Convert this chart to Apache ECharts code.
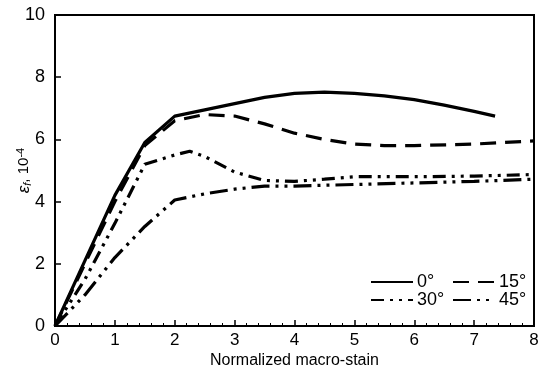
<!DOCTYPE html>
<html>
<head>
<meta charset="utf-8">
<script src="https://cdn.jsdelivr.net/npm/echarts@6/dist/echarts.min.js"></script>
<style>
  html, body { margin: 0; padding: 0; background: #fff; }
  #chart { width: 541px; height: 377px; }
</style>
</head>
<body>
<div id="chart"></div>
<script>
// 数据
var seriesNames = ['0°', '15°', '30°', '45°'];

var x0 = [0, 0.5, 1, 1.5, 2, 2.5, 3, 3.5, 4, 4.5, 5, 5.5, 6, 6.5, 7, 7.35];
var y0 = [0, 2.1, 4.2, 5.9, 6.75, 6.95, 7.15, 7.35, 7.48, 7.52, 7.48, 7.4, 7.28, 7.1, 6.9, 6.75];

var x15 = [0, 0.5, 1, 1.5, 2, 2.5, 3, 3.5, 4, 4.5, 5, 5.5, 6, 7, 8];
var y15 = [0, 2.0, 4.0, 5.8, 6.6, 6.8, 6.75, 6.5, 6.2, 6.0, 5.85, 5.8, 5.8, 5.85, 5.95];

var x30 = [0, 0.5, 1, 1.5, 2, 2.25, 2.5, 3, 3.5, 4, 4.5, 5, 6, 7, 8];
var y30 = [0, 1.5, 3.3, 5.2, 5.5, 5.62, 5.45, 4.95, 4.68, 4.65, 4.72, 4.8, 4.8, 4.82, 4.87];

var x45 = [0, 0.5, 1, 1.5, 2, 2.5, 3, 3.5, 4, 5, 6, 7, 8];
var y45 = [0, 1.0, 2.2, 3.2, 4.05, 4.25, 4.4, 4.5, 4.5, 4.55, 4.6, 4.65, 4.72];

function pairs(xs, ys) {
    var out = [];
    for (var i = 0; i < xs.length; i++) {
        out.push([xs[i], ys[i]]);
    }
    return out;
}

var chart = echarts.init(document.getElementById('chart'));

var font = 'Liberation Sans, Arial, Helvetica, sans-serif';

function makeSeries(name, data, dash) {
    return {
        name: name,
        type: 'line',
        data: data,
        symbol: 'none',
        showSymbol: false,
        lineStyle: {
            color: '#000',
            width: 3.2,
            type: dash
        },
        itemStyle: { color: '#000' }
    };
}

function makeLegend(names, left) {
    return {
        data: names,
        orient: 'vertical',
        left: left,
        top: 273,
        itemWidth: 42,
        itemHeight: 12,
        itemGap: 0,
        padding: 0,
        itemStyle: { opacity: 0 },
        textStyle: { fontFamily: font, fontSize: 18, color: '#000', padding: [0, 0, 0, -1] }
    };
}

var option = {
    animation: false,
    backgroundColor: '#fff',
    grid: {
        left: 55,
        right: 7,
        top: 15,
        bottom: 51,
        outerBoundsMode: 'none',
        containLabel: false,
        show: true,
        borderColor: '#000',
        borderWidth: 2
    },
    legend: [
        makeLegend(['0°', '30°'], 370),
        makeLegend(['15°', '45°'], 452)
    ],
    xAxis: {
        type: 'value',
        min: 0,
        max: 8,
        interval: 1,
        name: 'Normalized macro-stain',
        nameLocation: 'middle',
        nameGap: 27,
        nameMoveOverlap: false,
        nameTextStyle: { fontFamily: font, fontSize: 16, color: '#000' },
        axisLine: { lineStyle: { color: '#000', width: 2 } },
        axisTick: { inside: true, length: 6, lineStyle: { color: '#000', width: 1.5 } },
        minorTick: { show: true, splitNumber: 5, length: 3, lineStyle: { color: '#000', width: 1 } },
        axisLabel: { fontFamily: font, fontSize: 17, color: '#000', margin: 6 },
        splitLine: { show: false }
    },
    yAxis: {
        type: 'value',
        min: 0,
        max: 10,
        interval: 2,
        name: '{e|ε}{s|f}{t|, 10}{p|-4}',
        nameLocation: 'middle',
        nameGap: 22,
        nameMoveOverlap: false,
        nameRotate: 90,
        nameTextStyle: {
            fontFamily: font,
            color: '#000',
            rich: {
                e: { fontFamily: font, fontSize: 17, fontStyle: 'italic', color: '#000' },
                s: { fontFamily: font, fontSize: 11, fontStyle: 'italic', color: '#000', verticalAlign: 'bottom', padding: [7, 0, 0, 0] },
                t: { fontFamily: font, fontSize: 15, color: '#000' },
                p: { fontFamily: font, fontSize: 11, color: '#000', verticalAlign: 'top', padding: [0, 0, 7, 0] }
            }
        },
        axisLine: { lineStyle: { color: '#000', width: 2 } },
        axisTick: { inside: true, length: 6, lineStyle: { color: '#000', width: 1.5 } },
        axisLabel: { fontFamily: font, fontSize: 18, color: '#000', margin: 10 },
        splitLine: { show: false }
    },
    series: [
        makeSeries('0°', pairs(x0, y0), 'solid'),
        makeSeries('15°', pairs(x15, y15), [16, 9]),
        makeSeries('30°', pairs(x30, y30), [13, 6, 3, 6, 3, 6]),
        makeSeries('45°', pairs(x45, y45), [18, 6, 3, 6, 3, 6])
    ]
};

chart.setOption(option);
</script>
</body>
</html>
